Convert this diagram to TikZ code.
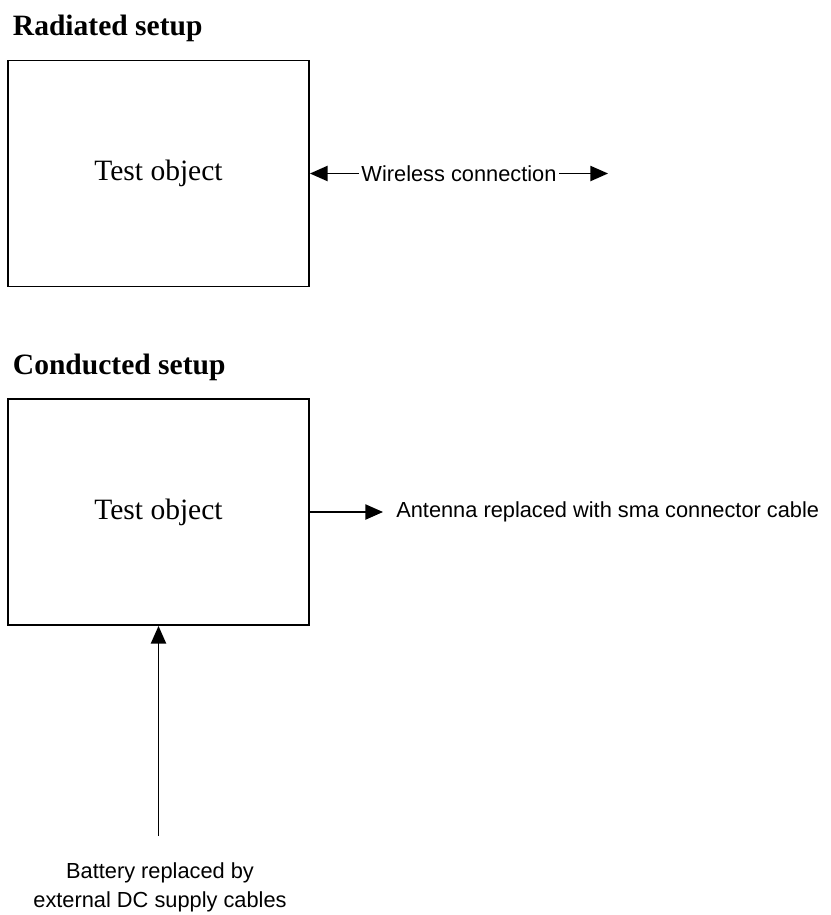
\documentclass[tikz,border=0pt]{standalone}
\usepackage{fontspec}
\setmainfont{Liberation Serif}
\setsansfont{Liberation Sans}
\usetikzlibrary{arrows.meta, positioning}

\begin{document}
\begin{tikzpicture}[x=0.025cm, y=-0.025cm,
		testbox/.style={draw, line width=1.3pt, minimum width=7.525cm, minimum height=5.65cm, font=\fontsize{21}{25}\selectfont},
		heading/.style={anchor=base west, font=\bfseries\fontsize{21}{25}\selectfont},
		note/.style={font=\sffamily\fontsize{15.5}{20.5}\selectfont},
		link/.style={line width=1pt, -{Triangle[length=0.44cm, width=0.38cm]}}]
			\useasboundingbox (0,0) rectangle (830,915);
			% Radiated setup:
			\node[heading](H1) at (8, 35){Radiated setup};
			\node[testbox](O1) at (158.5, 173.5){Test object};
			\coordinate (W1) at (608, 173.5);
			\draw[link, {Triangle[length=0.44cm, width=0.38cm]}-{Triangle[length=0.44cm, width=0.38cm]}] (O1.east) -- node[note, fill=white, inner sep=2pt](L1){Wireless connection} (W1);
			% Conducted setup:
			\node[heading](H2) at (8, 374){Conducted setup};
			\node[testbox](O2) at (158.5, 512){Test object};
			\coordinate (A1) at (383, 512);
			\draw[link] (O2.east) -- (A1);
			\node[note, anchor=west, inner sep=0pt](L2) at (396, 512){Antenna replaced with sma connector cable};
			\node[note, align=center](L3) at (160, 887){Battery replaced by\\external DC supply cables};
			\coordinate (B1) at (158.5, 836);
			\draw[link] (B1) -- (O2.south);
		\end{tikzpicture}
\end{document}
